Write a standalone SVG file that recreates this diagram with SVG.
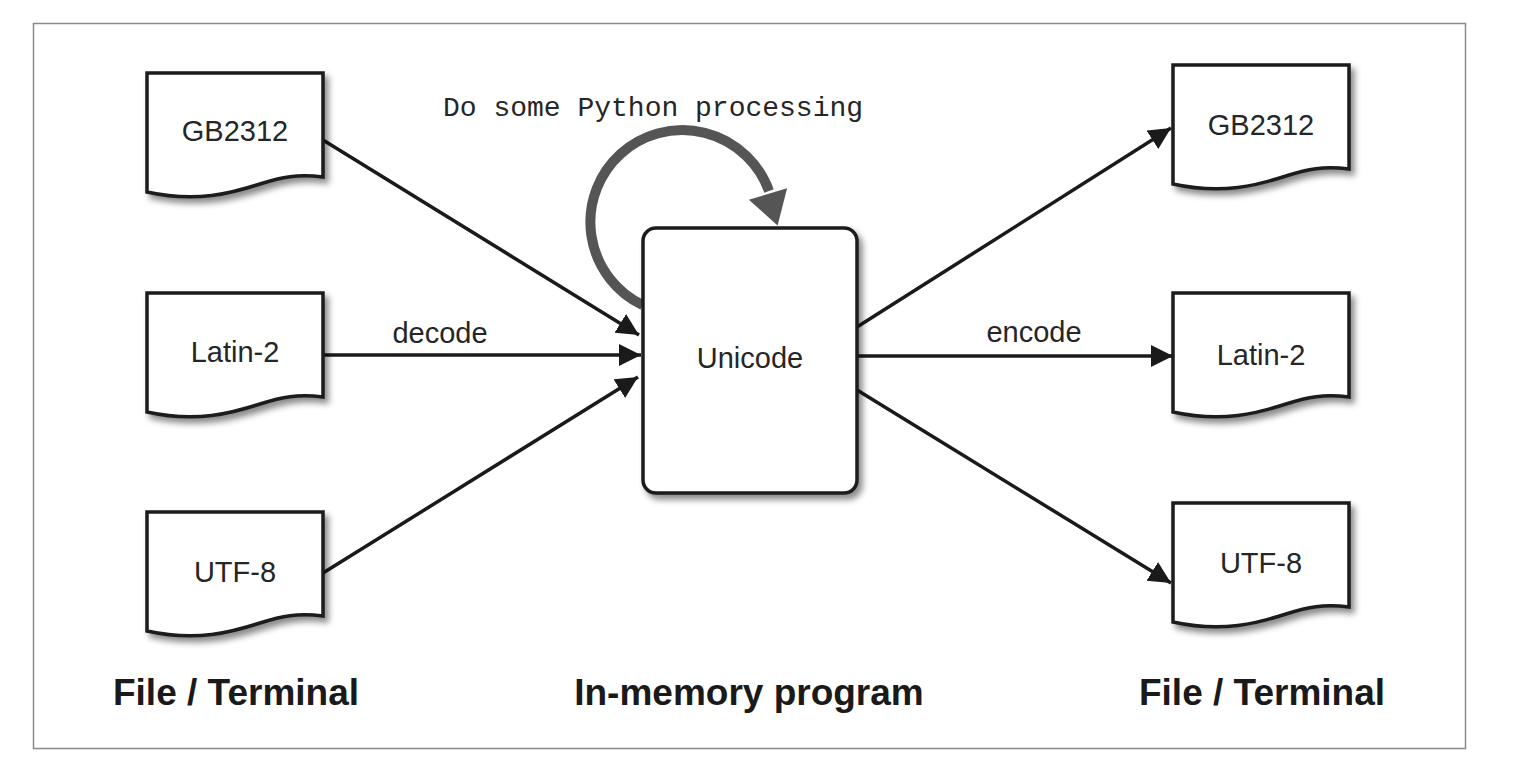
<svg xmlns="http://www.w3.org/2000/svg" width="1528" height="764" viewBox="0 0 1528 764">
<style>
.doc{fill:#fff;stroke:#1a1a1a;stroke-width:3.5;stroke-linejoin:miter;filter:url(#sh)}
.box{fill:#fff;stroke:#1a1a1a;stroke-width:3.5;filter:url(#sh)}
.lbl{font-family:"Liberation Sans",Arial,sans-serif;font-size:29px;fill:#262626;text-anchor:middle}
.title{font-family:"Liberation Sans",Arial,sans-serif;font-size:37px;font-weight:bold;fill:#1a1a1a;text-anchor:middle}
.mono{font-family:"Liberation Mono","DejaVu Sans Mono",monospace;font-size:28px;fill:#262626}
.conn{stroke:#1a1a1a;stroke-width:3.5;fill:none;marker-end:url(#ah)}
</style>
<defs>
<filter id="sh" x="-10%" y="-10%" width="130%" height="130%">
<feDropShadow dx="4" dy="5" stdDeviation="3" flood-color="#000" flood-opacity="0.45"/>
</filter>
<marker id="ah" markerUnits="userSpaceOnUse" markerWidth="24" markerHeight="24" refX="22" refY="11" orient="auto" viewBox="0 0 24 24">
<path d="M0,0 L22,11 L0,22 Z" fill="#1a1a1a"/>
</marker>
<path id="docshape" d="M0,0 H176 V104 C150,101 135,104 113,111 C85,120 50,130 0,119 Z"/>
</defs>
<rect x="33.5" y="23.5" width="1432" height="725" fill="#fff" stroke="#8a8a8a" stroke-width="1.5"/>

<g id="connectors">
<line class="conn" x1="323" y1="140" x2="639" y2="335"/>
<line class="conn" x1="323" y1="355" x2="641" y2="355"/>
<line class="conn" x1="323" y1="573" x2="638" y2="377"/>
<line class="conn" x1="857" y1="327" x2="1171" y2="128"/>
<line class="conn" x1="857" y1="356" x2="1173" y2="356"/>
<line class="conn" x1="857" y1="390" x2="1171" y2="583"/>
<g id="loop">
<path d="M642.6,305 A92,92 0 1 1 769,191" fill="none" stroke="#555" stroke-width="10"/>
<polygon points="787.1,188.2 748.9,199.8 777.6,225.5" fill="#555"/>
</g>
</g>

<g id="in-gb2312">
<use href="#docshape" class="doc" transform="translate(147,73)"/>
<text class="lbl" x="235" y="141">GB2312</text>
</g>
<g id="in-latin2">
<use href="#docshape" class="doc" transform="translate(147,293)"/>
<text class="lbl" x="235" y="362">Latin-2</text>
</g>
<g id="in-utf8">
<use href="#docshape" class="doc" transform="translate(147,512)"/>
<text class="lbl" x="235" y="582">UTF-8</text>
</g>

<g id="unicode">
<rect class="box" x="643" y="228" width="214" height="265" rx="13" ry="13"/>
<text class="lbl" x="750" y="368">Unicode</text>
</g>

<g id="out-gb2312">
<use href="#docshape" class="doc" transform="translate(1173,65)"/>
<text class="lbl" x="1261" y="135">GB2312</text>
</g>
<g id="out-latin2">
<use href="#docshape" class="doc" transform="translate(1173,293)"/>
<text class="lbl" x="1261" y="365">Latin-2</text>
</g>
<g id="out-utf8">
<use href="#docshape" class="doc" transform="translate(1173,503)"/>
<text class="lbl" x="1261" y="573">UTF-8</text>
</g>

<g id="labels">
<text class="mono" x="443" y="116">Do some Python processing</text>
<text class="lbl" x="440" y="343">decode</text>
<text class="lbl" x="1034" y="342">encode</text>
<text class="title" x="236" y="705">File / Terminal</text>
<text class="title" x="749" y="705">In-memory program</text>
<text class="title" x="1262" y="705">File / Terminal</text>
</g>
</svg>
